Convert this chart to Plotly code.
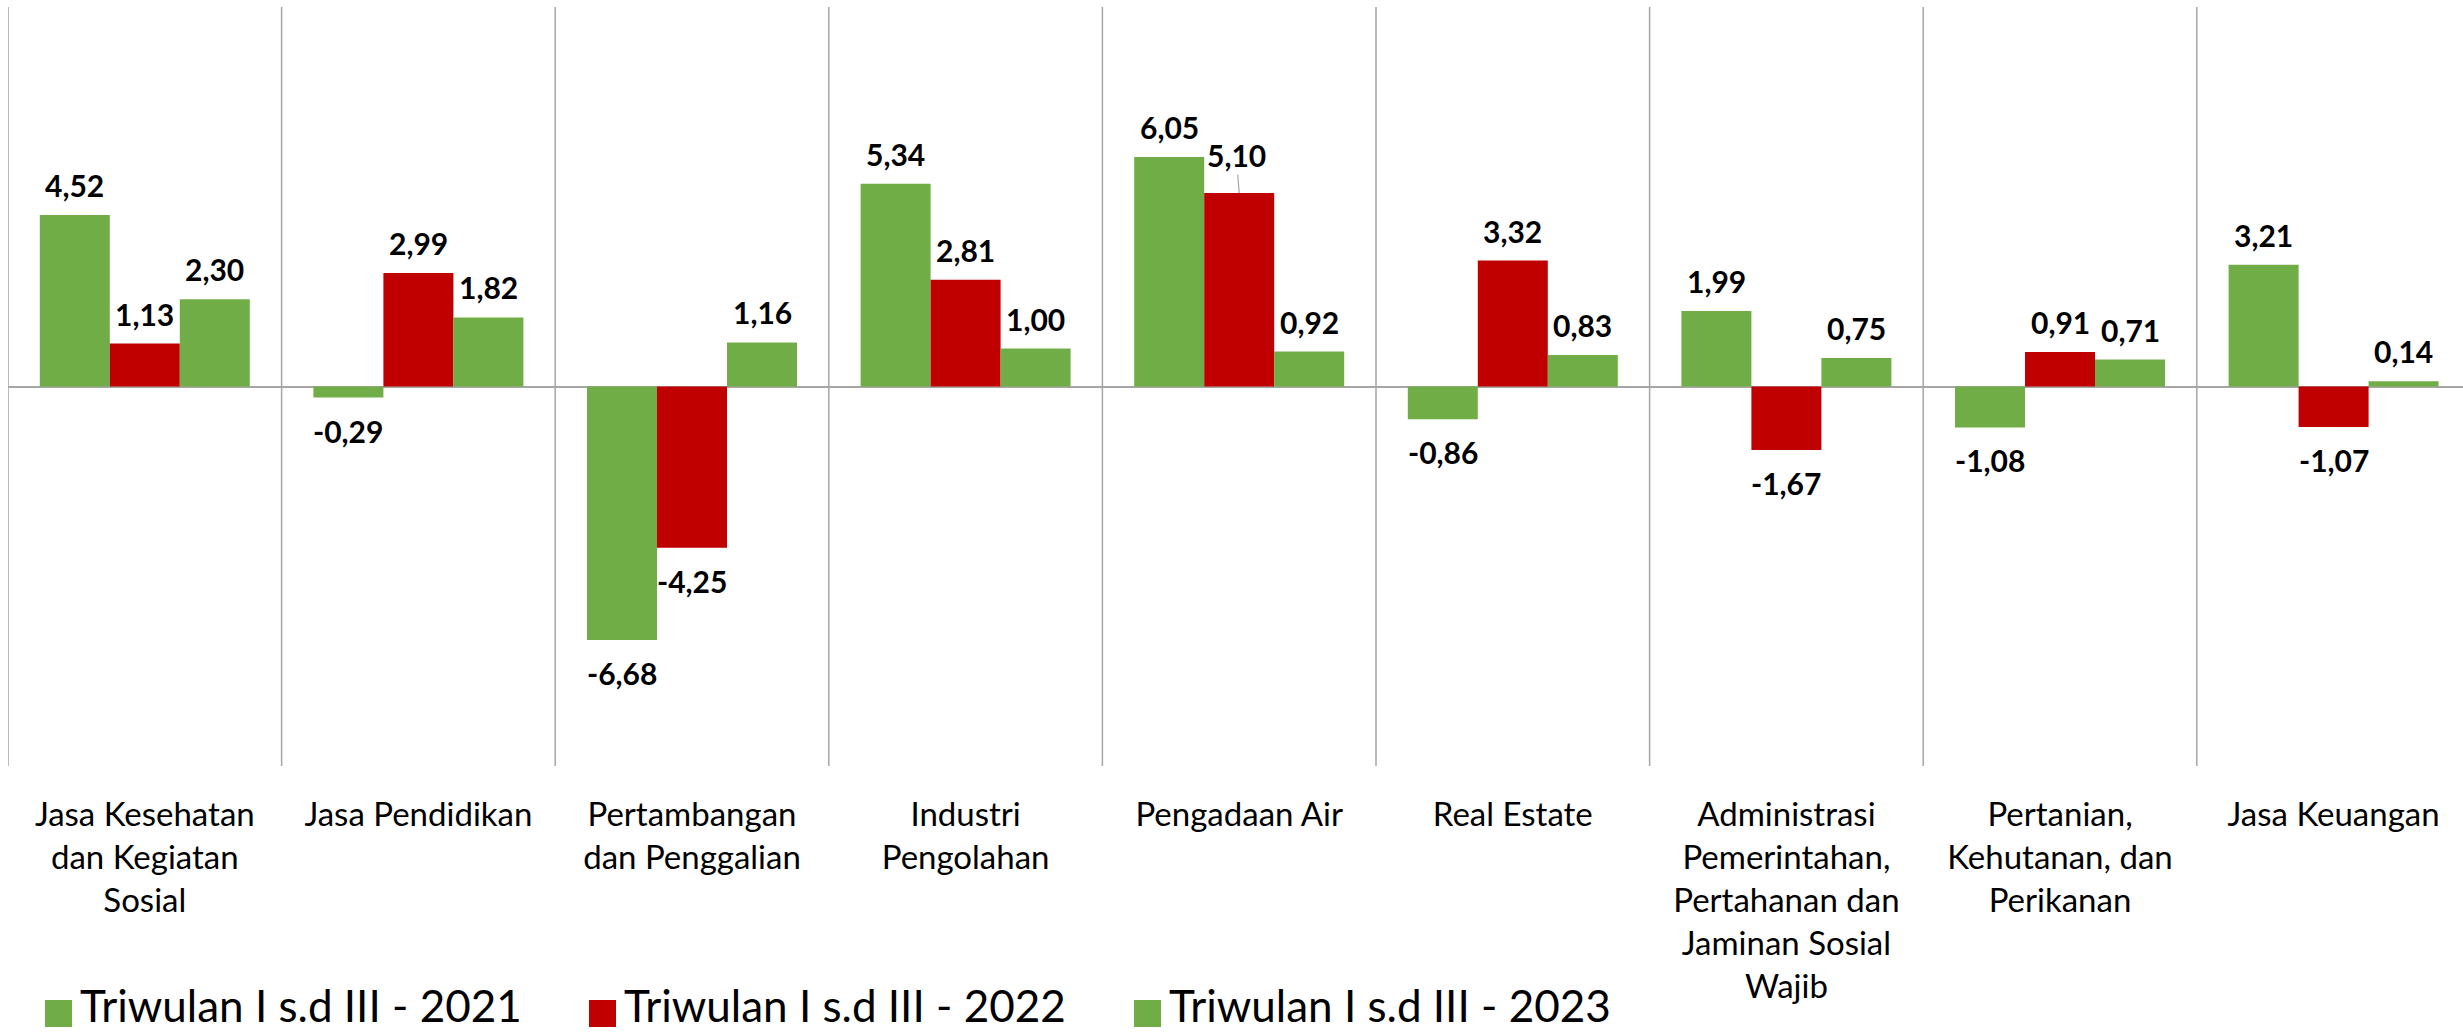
import plotly.graph_objects as go

# Sector growth, Triwulan I s.d III (percent)
categories = [
    "Jasa Kesehatan<br>dan Kegiatan<br>Sosial",
    "Jasa Pendidikan",
    "Pertambangan<br>dan Penggalian",
    "Industri<br>Pengolahan",
    "Pengadaan Air",
    "Real Estate",
    "Administrasi<br>Pemerintahan,<br>Pertahanan dan<br>Jaminan Sosial<br>Wajib",
    "Pertanian,<br>Kehutanan, dan<br>Perikanan",
    "Jasa Keuangan",
]
series_names = [
    "Triwulan I s.d III - 2021",
    "Triwulan I s.d III - 2022",
    "Triwulan I s.d III - 2023",
]
values_2021 = [4.52, -0.29, -6.68, 5.34, 6.05, -0.86, 1.99, -1.08, 3.21]
values_2022 = [1.13, 2.99, -4.25, 2.81, 5.10, 3.32, -1.67, 0.91, -1.07]
values_2023 = [2.30, 1.82, 1.16, 1.00, 0.92, 0.83, 0.75, 0.71, 0.14]
series_values = [values_2021, values_2022, values_2023]
series_colors = ["#70AD47", "#C00000", "#70AD47"]

W, H = 2463, 1032
ML, MR, MT, MB = 8, 0, 7, 266
plot_w = W - ML - MR
cat_px = 273.6
BARGAP = 0.2325
bar_w = (1 - BARGAP) / 3

FONT = "Lato, 'Open Sans', sans-serif"
GRID = "#A6A6A6"

idx = list(range(len(categories)))

fig = go.Figure()
for name, vals, col in zip(series_names, series_values, series_colors):
    fig.add_trace(go.Bar(
        x=idx, y=vals, name=name,
        marker=dict(color=col, line=dict(width=0)),
        showlegend=False,
    ))


def fmt(v):
    return f"{v:.2f}".replace(".", ",")


# value labels just outside the end of each bar
annotations = []
for j, vals in enumerate(series_values):
    for i, v in enumerate(vals):
        xpos = i + (j - 1) * bar_w
        ann = dict(
            x=xpos, y=v, xref="x", yref="y",
            text=f"<b>{fmt(v)}</b>", showarrow=False,
            font=dict(family=FONT, size=30, color="#000000"),
            xanchor="center", yanchor="middle",
            yshift=30 if v >= 0 else -33,
        )
        if j == 1 and i == 4:
            # label lifted clear of the neighbouring bar, with a leader line
            ann.update(showarrow=True, arrowhead=0, arrowwidth=1.2,
                       arrowcolor=GRID, ax=-3, ay=-38, yshift=0, standoff=0)
        annotations.append(ann)


def px_x(p):
    return (p - ML) / plot_w


def px_y(p):
    return 1 - (p - MT) / (H - MT - MB)


# legend drawn as swatches + labels along the bottom
shapes = []
legend_x = [45, 589, 1134]
for lx, name, col in zip(legend_x, series_names, series_colors):
    shapes.append(dict(
        type="rect", xref="paper", yref="paper",
        x0=px_x(lx), x1=px_x(lx + 27), y0=px_y(1027), y1=px_y(1000),
        fillcolor=col, line=dict(width=0),
    ))
    annotations.append(dict(
        x=px_x(lx + 34), y=px_y(1032), xref="paper", yref="paper",
        text=name, showarrow=False, xanchor="left", yanchor="bottom",
        borderpad=0,
        font=dict(family=FONT, size=44, color="#000000"),
    ))

fig.update_layout(
    width=W, height=H,
    margin=dict(l=ML, r=MR, t=MT, b=MB, pad=0),
    paper_bgcolor="white", plot_bgcolor="white",
    barmode="group", bargap=BARGAP, bargroupgap=0,
    annotations=annotations, shapes=shapes,
    showlegend=False,
    font=dict(family=FONT, color="#000000"),
)
fig.update_xaxes(
    type="linear",
    range=[-0.5, -0.5 + plot_w / cat_px],
    tickmode="array", tickvals=idx, ticktext=categories,
    ticks="", showgrid=False, zeroline=False, showline=False,
    tickfont=dict(family=FONT, size=33, color="#000000"),
    ticklabelstandoff=26,
)
# category dividers
for b in [i - 0.5 for i in range(len(categories) + 1)]:
    fig.add_shape(type="line", xref="x", yref="paper", x0=b, x1=b, y0=0, y1=1,
                  line=dict(color=GRID, width=1.5), layer="below")
fig.update_yaxes(
    range=[-10, 10], showticklabels=False, ticks="", showgrid=False,
    zeroline=True, zerolinecolor=GRID, zerolinewidth=1.5, showline=False,
)

fig.write_html("out.html")
